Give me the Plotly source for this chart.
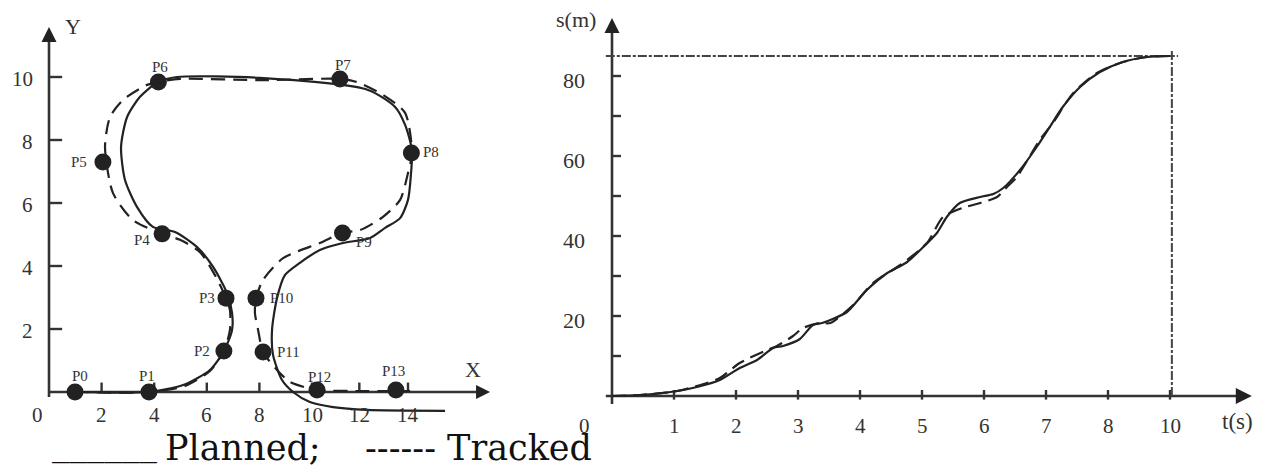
import plotly.graph_objects as go

# ---------------- DATA: left panel (path in X-Y plane) ----------------
POINT_NAMES = ["P0", "P1", "P2", "P3", "P4", "P5", "P6", "P7",
               "P8", "P9", "P10", "P11", "P12", "P13"]
POINT_X = [0.99, 3.80, 6.65, 6.73, 4.30, 2.05, 4.16, 11.06, 13.78, 11.16, 7.87, 8.14, 10.19, 13.19]
POINT_Y = [0.00, 0.00, 1.30, 2.98, 5.02, 7.30, 9.84, 9.94, 7.59, 5.05, 2.98, 1.27, 0.06, 0.06]

PLANNED_X = [0.99, 3.80, 5.10, 6.12, 6.65, 6.96, 6.96, 6.77, 6.24, 5.63, 4.79, 3.95, 3.35, 2.89,
             2.74, 2.97, 3.46, 4.14, 4.87, 8.02, 12.13, 13.16, 13.54, 13.80, 13.76, 13.65, 13.35,
             12.78, 12.21, 11.18, 10.30, 9.54, 8.97, 8.67, 8.48, 8.52, 8.86, 9.28, 9.92, 10.80,
             12.09, 15.06]
PLANNED_Y = [0.00, 0.00, 0.22, 0.70, 1.30, 1.97, 2.51, 3.14, 3.97, 4.60, 5.08, 5.24, 5.87, 6.73,
             7.78, 8.73, 9.37, 9.84, 10.00, 9.97, 9.59, 9.05, 8.48, 7.68, 6.89, 6.10, 5.52,
             5.21, 4.89, 4.73, 4.51, 4.10, 3.71, 2.98, 1.97, 1.17, 0.38, 0.00, -0.32, -0.48,
             -0.57, -0.60]

TRACKED_X = [0.99, 3.80, 5.17, 6.12, 6.65, 6.88, 6.88, 6.73, 6.31, 5.74, 4.98, 4.30, 3.19, 2.43,
             2.13, 2.32, 2.81, 3.73, 4.14, 4.98, 8.02, 11.06, 11.71, 12.70, 13.54, 13.80, 13.65,
             13.35, 12.70, 11.83, 11.14, 10.30, 8.90, 8.14, 7.87, 7.83, 7.95, 8.14, 8.67, 9.16,
             9.81, 10.19, 11.83, 13.73]
TRACKED_Y = [0.00, 0.00, 0.19, 0.67, 1.30, 1.97, 2.60, 2.98, 3.71, 4.44, 4.83, 5.02, 5.46, 6.32,
             7.78, 8.73, 9.27, 9.75, 9.84, 9.94, 9.90, 9.94, 9.84, 9.43, 8.86, 7.59, 6.95,
             6.10, 5.56, 5.14, 5.05, 4.73, 4.25, 3.56, 2.98, 2.51, 1.97, 1.27, 0.70, 0.32,
             0.13, 0.06, 0.03, 0.03]

LEFT_XTICK_POS = [2, 4, 6, 8, 10, 11.8, 13.65]
LEFT_XLABEL_POS = [-0.42, 2, 4, 6, 8, 10, 11.8, 13.65]
LEFT_XLABEL_TEXT = ["0", "2", "4", "6", "8", "10", "12", "14"]
LEFT_YTICK_POS = [2, 4, 6, 8, 10]
LEFT_YLABEL_TEXT = ["2", "4", "6", "8", "10"]
LEFT_X_END, LEFT_Y_END = 16.77, 11.59     # arrow tips
LEFT_Y_START = -0.16

# ---------------- DATA: right panel (s over t) ----------------
PLAN_T = [0, 0.45, 1.05, 1.37, 1.74, 2.06, 2.34, 2.60, 2.76, 3.03, 3.24, 3.39, 3.56, 3.79, 4.11,
          4.44, 4.76, 5.02, 5.24, 5.40, 5.61, 5.94, 6.15, 6.31, 6.58, 6.85, 7.06, 7.27, 7.55,
          7.87, 8.24, 8.63, 9.00]
PLAN_S = [0, 0.25, 1.25, 2.25, 4.0, 7.0, 9.0, 12.0, 12.5, 14.25, 17.75, 18.25, 19.25, 21.0, 26.5,
          30.75, 33.5, 37.25, 40.75, 44.75, 48.25, 49.75, 50.5, 52.0, 56.5, 62.25, 67.25, 72.25,
          77.25, 81.0, 83.5, 84.75, 85.0]
TRACK_T = [0, 0.45, 1.05, 1.53, 1.74, 2.06, 2.50, 2.66, 2.92, 3.08, 3.35, 3.52, 3.89, 4.21, 4.65,
           5.08, 5.34, 5.65, 5.94, 6.21, 6.37, 6.53, 6.90, 7.11, 7.44, 7.82, 8.24, 8.63, 9.00]
TRACK_S = [0, 0.25, 1.25, 3.25, 4.5, 8.25, 11.5, 12.5, 15.0, 17.0, 18.25, 18.25, 22.75, 28.25,
           32.75, 38.25, 44.75, 47.0, 48.25, 49.75, 52.25, 54.75, 64.0, 68.25, 75.75, 80.75,
           83.5, 84.75, 85.0]

RIGHT_XTICK_POS = [1, 2, 3, 4, 5, 6, 7, 8, 9]
RIGHT_XLABEL_POS = [-0.44, 1, 2, 3, 4, 5, 6, 7, 8, 9]
RIGHT_XLABEL_TEXT = ["0", "1", "2", "3", "4", "5", "6", "7", "8", "10"]
RIGHT_YTICK_POS = [10, 20, 30, 40, 50, 60, 70, 80]
RIGHT_YLABEL_POS = [20, 40, 60, 80]
RIGHT_YLABEL_TEXT = ["20", "40", "60", "80"]
S_FINAL, T_FINAL = 85, 9.03
RIGHT_X_END, RIGHT_Y_END = 10.32, 94.5
RIGHT_X_START, RIGHT_Y_START = -0.1, -2.0

# ---------------- STYLE ----------------
W, H = 1269, 466
INK = "#222222"
AXC = "#333333"
SERIF = "Liberation Serif, Times New Roman, serif"
LEG_FONT = "DejaVu Serif, serif"

fig = go.Figure()


def seg_xy(pairs):
    xs, ys = [], []
    for (x0, y0), (x1, y1) in pairs:
        xs += [x0, x1, None]
        ys += [y0, y1, None]
    return xs, ys


def add(xs, ys, xa, ya, **kw):
    fig.add_trace(go.Scatter(x=xs, y=ys, xaxis=xa, yaxis=ya, showlegend=False,
                             hoverinfo="skip", **kw))


# ----- left axes -----
add([0, LEFT_X_END - 0.3], [0, 0], "x", "y", mode="lines", line=dict(color=AXC, width=2.6))
add([0, 0], [LEFT_Y_START, LEFT_Y_END - 0.3], "x", "y", mode="lines", line=dict(color=AXC, width=2.6))
tx, ty = seg_xy([((p, 0), (p, 0.3)) for p in LEFT_XTICK_POS])
add(tx, ty, "x", "y", mode="lines", line=dict(color=AXC, width=2.4))
tx, ty = seg_xy([((0, p), (0.5, p)) for p in LEFT_YTICK_POS])
add(tx, ty, "x", "y", mode="lines", line=dict(color=AXC, width=2.4))

# ----- left curves -----
add(PLANNED_X, PLANNED_Y, "x", "y", mode="lines",
    line=dict(color=INK, width=2.2, shape="spline", smoothing=0.7), name="Planned")
add(TRACKED_X, TRACKED_Y, "x", "y", mode="lines",
    line=dict(color=INK, width=2.2, shape="spline", smoothing=0.7, dash="14px,8px"), name="Tracked")
add(POINT_X, POINT_Y, "x", "y", mode="markers", marker=dict(size=17, color=INK))
add([LEFT_X_END], [0], "x", "y", mode="markers",
    marker=dict(symbol="arrow-right", size=14, color=INK))
add([0], [LEFT_Y_END], "x", "y", mode="markers",
    marker=dict(symbol="arrow-up", size=15, color=INK))

# ----- right axes -----
add([RIGHT_X_START, RIGHT_X_END - 0.2], [0, 0], "x2", "y2", mode="lines", line=dict(color=AXC, width=2.6))
add([0, 0], [RIGHT_Y_START, RIGHT_Y_END - 3], "x2", "y2", mode="lines", line=dict(color=AXC, width=2.6))
tx, ty = seg_xy([((p, -0.9), (p, 1.5)) for p in RIGHT_XTICK_POS])
add(tx, ty, "x2", "y2", mode="lines", line=dict(color=AXC, width=2.4))
tx, ty = seg_xy([((0, p), (0.145, p)) for p in RIGHT_YTICK_POS])
add(tx, ty, "x2", "y2", mode="lines", line=dict(color=AXC, width=2.4))

# reference lines for final distance / final time
add([-0.1, T_FINAL + 0.1], [S_FINAL, S_FINAL], "x2", "y2", mode="lines",
    line=dict(color="#444444", width=2, dash="9px,2px,3px,2px"))
add([T_FINAL, T_FINAL], [0, S_FINAL + 1.5], "x2", "y2", mode="lines",
    line=dict(color="#444444", width=2, dash="9px,2px,3px,2px"))

# ----- right curves -----
add(PLAN_T, PLAN_S, "x2", "y2", mode="lines",
    line=dict(color=INK, width=2.2, shape="spline", smoothing=0.7), name="Planned")
add(TRACK_T, TRACK_S, "x2", "y2", mode="lines",
    line=dict(color=INK, width=2.2, shape="spline", smoothing=0.7, dash="14px,7px"), name="Tracked")
add([RIGHT_X_END], [0], "x2", "y2", mode="markers",
    marker=dict(symbol="arrow-right", size=16, color=INK))
add([0], [RIGHT_Y_END], "x2", "y2", mode="markers",
    marker=dict(symbol="arrow-up", size=15, color=INK))

# ----- annotations (text) -----
ann = []


def txt(x, y, s, xref, yref, size, xshift=0, yshift=0, xanchor="center", family=SERIF, color=AXC):
    ann.append(dict(x=x, y=y, text=s, xref=xref, yref=yref, showarrow=False,
                    xshift=xshift, yshift=yshift, xanchor=xanchor, yanchor="middle",
                    font=dict(family=family, size=size, color=color)))


for p, s in zip(LEFT_XLABEL_POS, LEFT_XLABEL_TEXT):
    txt(p, 0, s, "x", "y", 21, yshift=-23)
for p, s in zip(LEFT_YTICK_POS, LEFT_YLABEL_TEXT):
    txt(0, p, s, "x", "y", 21, xshift=-14, yshift=-2, xanchor="right")
txt(0, LEFT_Y_END, "Y", "x", "y", 22, xshift=24, yshift=0)
txt(LEFT_X_END, 0, "X", "x", "y", 22, xshift=-17, yshift=23)

LABEL_SHIFT = [(5, 16), (-2, 16), (-22, 0), (-19, 0), (-20, -6), (-24, 0), (2, 15), (3, 14),
               (20, 1), (21, -9), (26, 0), (25, 0), (2, 13), (-2, 19)]
for name, x, y, (dx, dy) in zip(POINT_NAMES, POINT_X, POINT_Y, LABEL_SHIFT):
    txt(x, y, name, "x", "y", 15, xshift=dx, yshift=dy)

for p, s in zip(RIGHT_XLABEL_POS, RIGHT_XLABEL_TEXT):
    txt(p, 0, s, "x2", "y2", 21, yshift=-30)
for p, s in zip(RIGHT_YLABEL_POS, RIGHT_YLABEL_TEXT):
    txt(0, p, s, "x2", "y2", 22, xshift=-25, yshift=-4, xanchor="right")
txt(0, RIGHT_Y_END, "s(m)", "x2", "y2", 22, xshift=-36, yshift=-1)
txt(RIGHT_X_END, 0, "t(s)", "x2", "y2", 23, xshift=-14, yshift=-25)

# legend line under the left panel
LEGEND_PARTS = [("______", 50, 0), ("Planned;", 163, -4), ("------ Tracked", 363, -4)]
for s, xpix, ysh in LEGEND_PARTS:
    ann.append(dict(x=xpix / W, y=0, xref="paper", yref="paper", xanchor="left", yanchor="bottom",
                    yshift=ysh, showarrow=False, text=s,
                    font=dict(family=LEG_FONT, size=35, color="#111111")))

SPLIT = 540 / W
fig.update_layout(
    width=W, height=H, margin=dict(l=0, r=0, t=0, b=0),
    paper_bgcolor="white", plot_bgcolor="white", showlegend=False,
    xaxis=dict(domain=[0, SPLIT], range=[-49 / 26.3, (540 - 49) / 26.3], visible=False),
    yaxis=dict(domain=[0, 1], range=[(392 - 466) / 31.5, 392 / 31.5], visible=False),
    xaxis2=dict(domain=[SPLIT, 1], range=[(540 - 612) / 62, (1269 - 612) / 62], visible=False),
    yaxis2=dict(domain=[0, 1], range=[(396 - 466) / 4, 396 / 4], visible=False, anchor="x2"),
    annotations=ann,
)

fig.write_html("out.html", config={"displayModeBar": False},
               post_script="document.body.style.margin='0';document.body.style.padding='0';")
